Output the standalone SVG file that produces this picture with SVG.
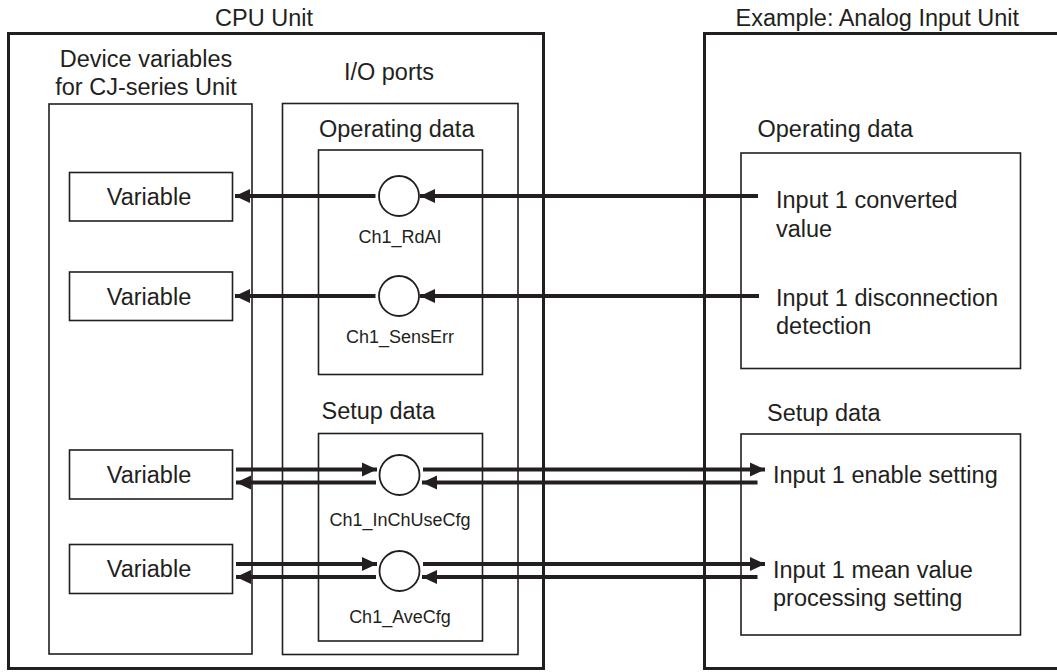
<svg xmlns="http://www.w3.org/2000/svg" width="1057" height="672" viewBox="0 0 1057 672">
<style>
text{font-family:"Liberation Sans",Arial,sans-serif;fill:#231f20}
.t{font-size:23.5px}
.s{font-size:18px}
.m{text-anchor:middle}
.unit{fill:none;stroke:#231f20;stroke-width:3}
.box{fill:none;stroke:#231f20;stroke-width:1.6}
.var{fill:#fff;stroke:#231f20;stroke-width:1.6}
.port{fill:#fff;stroke:#231f20;stroke-width:1.8}
.c{fill:none;stroke:#231f20;stroke-width:4}
</style>
<defs>
<marker id="ah" markerUnits="userSpaceOnUse" markerWidth="16" markerHeight="16" viewBox="0 0 16 16" refX="15" refY="8" orient="auto">
<path d="M0,1 L15,8 L0,15 Z" fill="#231f20"/>
</marker>
</defs>
<rect width="1057" height="672" fill="#fff"/>

<g id="cpu-unit">
<text class="t m" x="264" y="26">CPU Unit</text>
<rect class="unit" x="8.5" y="33.5" width="535" height="635"/>
</g>

<g id="device-variables">
<text class="t m" x="146" y="67">Device variables</text>
<text class="t m" x="146" y="95">for CJ-series Unit</text>
<rect class="box" x="49" y="104" width="203" height="550"/>
</g>

<g id="io-ports">
<text class="t m" x="389" y="80">I/O ports</text>
<rect class="box" x="282.5" y="103.5" width="235.5" height="551"/>
</g>

<g id="cpu-operating-data">
<text class="t" x="319" y="137">Operating data</text>
<rect class="box" x="318.5" y="150" width="164" height="224.5"/>
</g>

<g id="cpu-setup-data">
<text class="t" x="321.5" y="419">Setup data</text>
<rect class="box" x="318.5" y="433.5" width="164" height="207.5"/>
</g>

<g id="var1"><rect class="var" x="69.5" y="172.5" width="163" height="48.5"/><text class="t m" x="149" y="205">Variable</text></g>
<g id="var2"><rect class="var" x="69.5" y="272" width="163" height="48.5"/><text class="t m" x="149" y="305">Variable</text></g>
<g id="var3"><rect class="var" x="69.5" y="450" width="163" height="49"/><text class="t m" x="149" y="483">Variable</text></g>
<g id="var4"><rect class="var" x="69.5" y="544.5" width="163" height="49"/><text class="t m" x="149" y="577">Variable</text></g>

<g id="port-rdai"><circle class="port" cx="399" cy="196" r="20"/><text class="s m" x="400" y="243">Ch1_RdAI</text></g>
<g id="port-senserr"><circle class="port" cx="399" cy="296" r="20"/><text class="s m" x="400" y="343">Ch1_SensErr</text></g>
<g id="port-inchusecfg"><circle class="port" cx="399.5" cy="475" r="20"/><text class="s m" x="400" y="526">Ch1_InChUseCfg</text></g>
<g id="port-avecfg"><circle class="port" cx="399.5" cy="571" r="20"/><text class="s m" x="400" y="623">Ch1_AveCfg</text></g>

<g id="analog-unit">
<text class="t" x="735.5" y="26">Example: Analog Input Unit</text>
<path class="unit" d="M1060,33.5 H704.5 V668.5 H1060"/>
</g>

<g id="analog-operating-data">
<text class="t" x="757.5" y="137">Operating data</text>
<rect class="box" x="741" y="153" width="279.5" height="215.5"/>
<text class="t" x="776" y="208">Input 1 converted</text>
<text class="t" x="776" y="237">value</text>
<text class="t" x="776" y="306">Input 1 disconnection</text>
<text class="t" x="776" y="334">detection</text>
</g>

<g id="analog-setup-data">
<text class="t" x="767" y="421">Setup data</text>
<rect class="box" x="741" y="434" width="279.5" height="201"/>
<text class="t" x="773" y="483">Input 1 enable setting</text>
<text class="t" x="773" y="578">Input 1 mean value</text>
<text class="t" x="773" y="606">processing setting</text>
</g>

<g id="connectors">
<line class="c" x1="758" y1="196" x2="420" y2="196" marker-end="url(#ah)"/>
<line class="c" x1="375.5" y1="196" x2="235" y2="196" marker-end="url(#ah)"/>
<line class="c" x1="759" y1="296" x2="420" y2="296" marker-end="url(#ah)"/>
<line class="c" x1="375.5" y1="296" x2="235" y2="296" marker-end="url(#ah)"/>

<line class="c" x1="236" y1="469.5" x2="377" y2="469.5" marker-end="url(#ah)"/>
<line class="c" x1="423" y1="469.5" x2="765" y2="469.5" marker-end="url(#ah)"/>
<line class="c" x1="757.5" y1="482.5" x2="422" y2="482.5" marker-end="url(#ah)"/>
<line class="c" x1="376" y1="482.5" x2="236" y2="482.5" marker-end="url(#ah)"/>

<line class="c" x1="236" y1="564" x2="377" y2="564" marker-end="url(#ah)"/>
<line class="c" x1="423" y1="564" x2="765" y2="564" marker-end="url(#ah)"/>
<line class="c" x1="757.5" y1="577" x2="422" y2="577" marker-end="url(#ah)"/>
<line class="c" x1="376" y1="577" x2="236" y2="577" marker-end="url(#ah)"/>
</g>
</svg>
